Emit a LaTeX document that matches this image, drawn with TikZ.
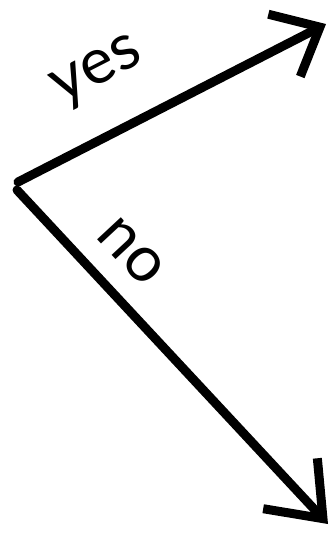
\documentclass[tikz,border=0pt]{standalone}
\usepackage{fontspec}
\setmainfont{Lato}
\usetikzlibrary{arrows.meta}
\begin{document}
\begin{tikzpicture}[x=1pt,y=-1pt,
  chalk/.style={line width=9pt, black, line cap=round, line join=round},
  yeshead/.style={-{Straight Barb[length=40pt,width=70pt,line width=9pt]}},
  nohead/.style={-{Straight Barb[length=48pt,width=74pt,line width=9pt]}},
  lbl/.style={font=\fontsize{64}{68}\selectfont, inner sep=0pt}]
\useasboundingbox (0,0) rectangle (335,536);
\coordinate (yesstart) at (18,182);
\coordinate (nostart) at (17,190);
\coordinate (yesend) at (326,24);
\coordinate (noend) at (328,524);
\draw[chalk, yeshead] (yesstart) -- node[lbl, sloped, pos=0.35, above=34pt] (yes) {yes} (yesend);
\draw[chalk, nohead] (nostart) -- node[lbl, sloped, pos=0.27, above=20pt] (no) {no} (noend);
\end{tikzpicture}
\end{document}
